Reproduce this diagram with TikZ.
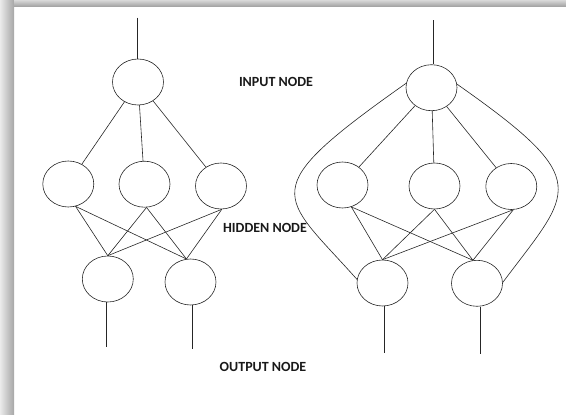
\documentclass[tikz,border=0pt]{standalone}
\usepackage{fontspec}
\setmainfont{Carlito}
\usepackage{tikz}
\usetikzlibrary{positioning, shapes.geometric}
\tikzset{
    neuron/.style={ellipse, draw=black!85, line width=0.6pt, minimum width=51pt, minimum height=46pt, inner sep=0pt},
    wire/.style={draw=black!85, line width=0.6pt},
    netlabel/.style={font=\bfseries\fontsize{14}{16}\selectfont, text=black!90, inner sep=0pt}
}

\begin{document}
\begin{tikzpicture}[x=1pt, y=-1pt]
        \useasboundingbox (0,0) rectangle (566,415);

        % Shadow
        \shade[left color=black!8, right color=black!35] (0,0) rectangle (14,415);
        \shade[top color=black!15, bottom color=black!35] (14,0) rectangle (566,6);

        % Left network
        \node[neuron] (InA) at (138,82) {};
        \node[neuron] (HidA1) at (68.3,184) {};
        \node[neuron] (HidA2) at (144.5,184.2) {};
        \node[neuron] (HidA3) at (221,186) {};
        \node[neuron] (OutA1) at (107.8,279) {};
        \node[neuron] (OutA2) at (190.5,282) {};

        \coordinate (TopA) at (137,17.5);
        \coordinate (EndA1) at (106.7,346.7);
        \coordinate (EndA2) at (192.3,349.3);

        \draw[wire] (TopA) -- (TopA |- InA.north);
        \foreach \h in {HidA1, HidA2, HidA3}
            \draw[wire] (InA) -- (\h);
        \foreach \o/\a in {OutA1/90, OutA2/100} {
            \draw[wire] (HidA1.-72) -- (\o.\a);
            \draw[wire] (HidA2.-85) -- (\o.\a);
            \draw[wire] (HidA3.-88) -- (\o.\a);
        }
        \draw[wire] (OutA1.south -| EndA1) -- (EndA1);
        \draw[wire] (OutA2.south -| EndA2) -- (EndA2);

        % Right network
        \node[neuron] (InB) at (431.5,87.7) {};
        \node[neuron] (HidB1) at (342.5,185) {};
        \node[neuron] (HidB2) at (434.5,186) {};
        \node[neuron] (HidB3) at (511.3,186.5) {};
        \node[neuron] (OutB1) at (382.5,283) {};
        \node[neuron] (OutB2) at (477,283.3) {};

        \coordinate (TopB) at (433,20);
        \coordinate (EndB1) at (384,353.3);
        \coordinate (EndB2) at (480,354.3);

        \draw[wire] (TopB) -- (TopB |- InB.north);
        \foreach \h in {HidB1, HidB2, HidB3}
            \draw[wire] (InB) -- (\h);
        \foreach \o/\a in {OutB1/90, OutB2/100} {
            \draw[wire] (HidB1.-68) -- (\o.\a);
            \draw[wire] (HidB2.south) -- (\o.\a);
            \draw[wire] (HidB3.-85) -- (\o.\a);
        }
        \draw[wire] (OutB1.south -| EndB1) -- (EndB1);
        \draw[wire] (OutB2.south -| EndB2) -- (EndB2);

        % Skip connections
        \draw[wire] (InB.170) .. controls (252,192) and (280,193) .. (OutB1.172);
        \draw[wire] (InB.8) .. controls (595.6,181.6) and (572.4,189.4) .. (OutB2.2);

        % Labels
        \node[netlabel] (InLabel) at (276,82) {INPUT NODE};
        \node[netlabel] (HidLabel) at (265,227.7) {HIDDEN NODE};
        \node[netlabel] (OutLabel) at (263,366.7) {OUTPUT NODE};
    \end{tikzpicture}
\end{document}
